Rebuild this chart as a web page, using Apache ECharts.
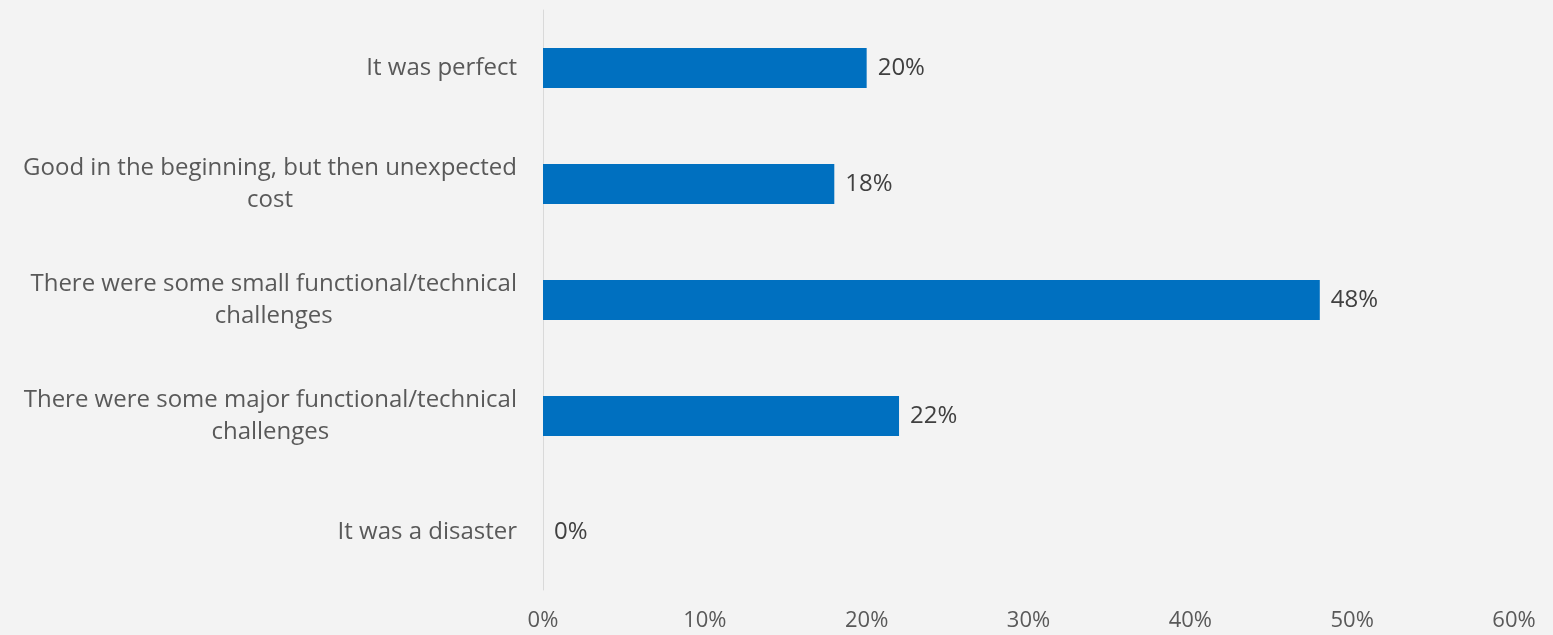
<!DOCTYPE html>
<html>
<head>
<meta charset="utf-8">
<script src="https://cdn.jsdelivr.net/npm/echarts@6/dist/echarts.min.js"></script>
<style>
html,body{margin:0;padding:0;background:#f3f3f3;}
#chart{width:1553px;height:635px;}
</style>
</head>
<body>
<div id="chart"></div>
<script>
var categories = [
  "It was perfect",
  "Good in the beginning, but then unexpected\ncost",
  "There were some small functional/technical\nchallenges",
  "There were some major functional/technical\nchallenges",
  "It was a disaster"
];
var values = [20, 18, 48, 22, 0];
var xTicks = {min: 0, max: 60, interval: 10};

var FONT = "'Open Sans', sans-serif";
var chart = echarts.init(document.getElementById('chart'));
chart.setOption({
  backgroundColor: '#f3f3f3',
  animation: false,
  grid: {left: 543, right: 39, top: 10, bottom: 45, containLabel: false},
  xAxis: {
    type: 'value', min: xTicks.min, max: xTicks.max, interval: xTicks.interval,
    axisLine: {show: false}, axisTick: {show: false}, splitLine: {show: false},
    axisLabel: {formatter: '{value}%', color: '#595959', fontSize: 22, fontFamily: FONT, margin: 20}
  },
  yAxis: {
    type: 'category', inverse: true, data: categories,
    axisLine: {show: true, lineStyle: {color: '#d9d9d9', width: 1}},
    axisTick: {show: false},
    axisLabel: {
      margin: 26, color: '#595959', fontSize: 24, fontFamily: FONT,
      formatter: function (v) {
        return v.split('\n').map(function (l) { return '{c|' + l + '}'; }).join('\n');
      },
      rich: {c: {align: 'center', fontSize: 24, lineHeight: 32, color: '#595959', fontFamily: FONT}}
    }
  },
  series: [{
    type: 'bar', data: values, barWidth: 40,
    itemStyle: {color: '#0070c0'},
    label: {show: true, position: 'right', distance: 11, formatter: '{c}%', color: '#404040', fontSize: 24, fontFamily: FONT}
  }]
});
</script>
</body>
</html>
